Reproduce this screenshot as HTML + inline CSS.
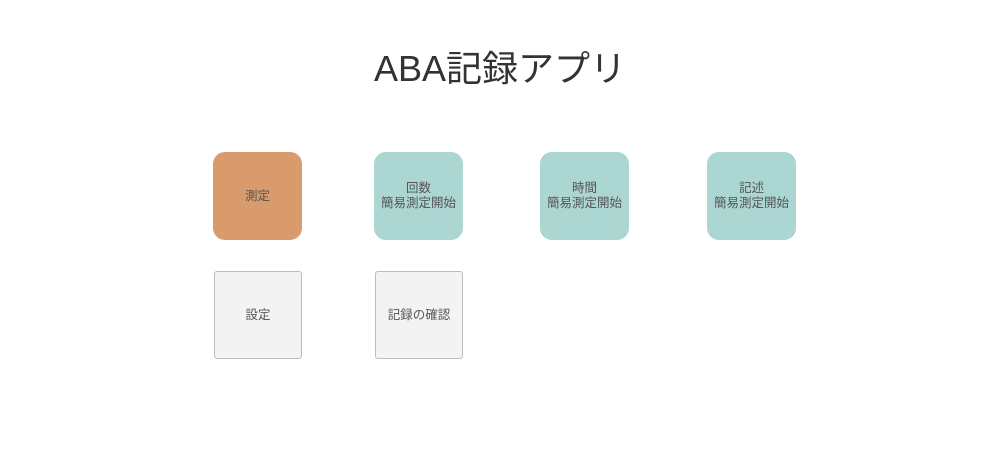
<!DOCTYPE html>
<html><head><meta charset="utf-8"><style>
body{margin:0;width:1000px;height:462px;background:#fff;position:relative;overflow:hidden;font-family:"Liberation Sans","Noto Sans CJK JP",sans-serif;}
.t{position:absolute;left:0;width:1000px;top:45px;text-align:center;font-size:36px;color:#333;line-height:48px;}
.b{position:absolute;display:flex;align-items:center;justify-content:center;text-align:center;font-size:12.5px;line-height:15px;color:#555;box-sizing:border-box;}
.o{background:#da9b6c;border-radius:12px;width:89px;height:88px;top:152px;}
.g{background:#acd6d2;border-radius:12px;width:89px;height:88px;top:152px;}
.s{background:#f3f3f3;border:1px solid #bdbdbd;border-radius:3px;width:88px;height:88px;top:271px;}
</style></head><body>
<div class="t">ABA記録アプリ</div>
<div class="b o" style="left:213px">測定</div>
<div class="b g" style="left:374px">回数<br>簡易測定開始</div>
<div class="b g" style="left:540px">時間<br>簡易測定開始</div>
<div class="b g" style="left:707px">記述<br>簡易測定開始</div>
<div class="b s" style="left:214px">設定</div>
<div class="b s" style="left:375px">記録の確認</div>
</body></html>
